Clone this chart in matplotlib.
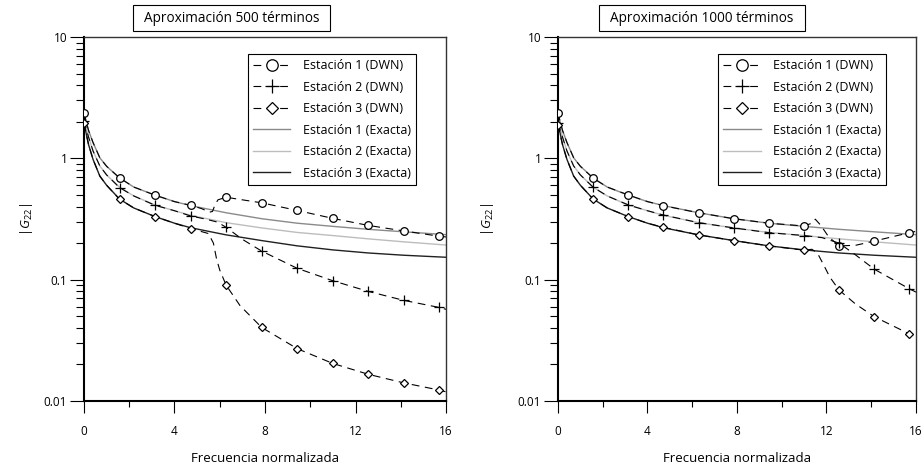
import numpy as np
import matplotlib.pyplot as plt
from matplotlib.ticker import FixedLocator, FixedFormatter, NullFormatter
from matplotlib.patches import Rectangle

plt.rcParams['font.family'] = ['Open Sans', 'DejaVu Sans']
plt.rcParams['mathtext.fontset'] = 'custom'
plt.rcParams['mathtext.rm'] = 'Open Sans'
plt.rcParams['mathtext.it'] = 'Open Sans:italic'

# Frecuencias donde se marcan los resultados DWN (multiplos de pi/2)
marker_freq = [0, 1.571, 3.142, 4.712, 6.283, 7.854, 9.425, 10.996, 12.566, 14.137, 15.708]

# Solucion exacta
exact_freq = [0, 0.2, 0.4, 0.7, 1.0, 1.571, 2.2, 3.142, 4.0, 4.712, 6.283, 7.854,
              9.425, 10.996, 12.566, 14.137, 16]
exact_st1 = [2.3, 1.7, 1.35, 1.01, 0.86, 0.69, 0.58, 0.497, 0.44, 0.408, 0.356, 0.318,
             0.292, 0.275, 0.26, 0.248, 0.235]
exact_st2 = [2.1, 1.5, 1.15, 0.865, 0.73, 0.578, 0.49, 0.412, 0.37, 0.339, 0.295, 0.267,
             0.245, 0.231, 0.217, 0.205, 0.193]
exact_st3 = [1.95, 1.3, 0.98, 0.714, 0.6, 0.462, 0.39, 0.331, 0.292, 0.268, 0.234, 0.21,
             0.19, 0.176, 0.166, 0.159, 0.153]

# DWN con 500 terminos: valores en las marcas + puntos intermedios de la curva
dwn500_st1 = [2.38, 0.69, 0.497, 0.41, 0.478, 0.43, 0.372, 0.32, 0.28, 0.252, 0.228]
dwn500_st1_f = [0.2, 0.4, 0.7, 1.0, 2.2, 4.0, 5.2, 5.55, 5.68, 5.78, 5.92, 7.0, 16]
dwn500_st1_v = [1.7, 1.35, 1.01, 0.86, 0.58, 0.44, 0.385, 0.36, 0.365, 0.41, 0.455, 0.455, 0.225]

dwn500_st2 = [2.05, 0.574, 0.41, 0.335, 0.27, 0.172, 0.124, 0.098, 0.080, 0.0675, 0.059]
dwn500_st2_f = [0.2, 0.4, 0.7, 1.0, 2.2, 4.0, 5.4, 5.9, 7.0, 16]
dwn500_st2_v = [1.5, 1.15, 0.865, 0.73, 0.49, 0.37, 0.315, 0.298, 0.215, 0.057]

dwn500_st3 = [1.94, 0.46, 0.331, 0.264, 0.09, 0.0404, 0.027, 0.0204, 0.0166, 0.0141, 0.0123]
dwn500_st3_f = [0.2, 0.4, 0.7, 1.0, 2.2, 4.0, 5.5, 5.72, 5.86, 6.0, 6.9, 16]
dwn500_st3_v = [1.3, 0.98, 0.714, 0.6, 0.39, 0.292, 0.24, 0.2, 0.148, 0.12, 0.061, 0.0119]

# DWN con 1000 terminos
dwn1000_st1 = [2.37, 0.686, 0.499, 0.407, 0.356, 0.318, 0.292, 0.277, 0.19, 0.208, 0.244]
dwn1000_st1_f = [0.2, 0.4, 0.7, 1.0, 2.2, 4.0, 11.3, 11.5, 11.75, 12.1, 13.3, 16]
dwn1000_st1_v = [1.7, 1.35, 1.01, 0.86, 0.58, 0.44, 0.29, 0.315, 0.28, 0.225, 0.192, 0.25]

dwn1000_st2 = [1.95, 0.578, 0.413, 0.341, 0.295, 0.267, 0.244, 0.231, 0.2, 0.122, 0.084]
dwn1000_st2_f = [0.2, 0.4, 0.7, 1.0, 2.2, 4.0, 11.8, 13.3, 16]
dwn1000_st2_v = [1.5, 1.15, 0.865, 0.73, 0.49, 0.37, 0.222, 0.16, 0.079]

dwn1000_st3 = [1.9, 0.462, 0.331, 0.27, 0.234, 0.21, 0.19, 0.175, 0.082, 0.0495, 0.0357]
dwn1000_st3_f = [0.2, 0.4, 0.7, 1.0, 2.2, 4.0, 11.35, 11.6, 11.85, 12.15, 13.3, 16]
dwn1000_st3_v = [1.3, 0.98, 0.714, 0.6, 0.39, 0.292, 0.178, 0.165, 0.135, 0.105, 0.063, 0.034]

labels_dwn = ['Estación 1 (DWN)', 'Estación 2 (DWN)', 'Estación 3 (DWN)']
labels_exact = ['Estación 1 (Exacta)', 'Estación 2 (Exacta)', 'Estación 3 (Exacta)']
exact_colors = ['#8a8a8a', '#bdbdbd', '#202020']
dwn_markers = ['o', '+', 'D']
dwn_msize = [5.5, 7.0, 4.2]


def merge_curve(mark_v, extra_f, extra_v):
    f = np.array(marker_freq + extra_f)
    v = np.array(mark_v + extra_v)
    order = np.argsort(f, kind='stable')
    marks = np.where(order < len(marker_freq))[0]
    return f[order], v[order], list(marks)


def draw_panel(ax, dwn_series, title, box_x, ylab_x):
    for vals, col, lab in zip([exact_st1, exact_st2, exact_st3], exact_colors, labels_exact):
        ax.plot(exact_freq, vals, color=col, lw=1.0, label=lab, zorder=2)

    handles = []
    for (mv, ef, ev), mk, ms, lab in zip(dwn_series, dwn_markers, dwn_msize, labels_dwn):
        f, v, marks = merge_curve(mv, ef, ev)
        line, = ax.plot(f, v, color='black', lw=0.8, dashes=(7, 5), marker=mk,
                        markevery=marks, markersize=ms, markerfacecolor='white',
                        markeredgecolor='black', markeredgewidth=0.9, label=lab,
                        zorder=3)
        handles.append(line)

    ax.set_xlim(0, 16)
    ax.set_yscale('log')
    ax.set_ylim(0.01, 10)

    ax.xaxis.set_major_locator(FixedLocator([0, 4, 8, 12, 16]))
    ax.xaxis.set_minor_locator(FixedLocator([2, 6, 10, 14]))
    ax.xaxis.set_major_formatter(FixedFormatter(['0', '4', '8', '12', '16']))
    ax.yaxis.set_major_locator(FixedLocator([0.01, 0.1, 1, 10]))
    ax.yaxis.set_major_formatter(FixedFormatter(['0.01', '0.1', '1', '10']))
    minors = [m * 10.0 ** e for e in (-2, -1, 0) for m in range(2, 10)]
    ax.yaxis.set_minor_locator(FixedLocator(minors))
    ax.yaxis.set_minor_formatter(NullFormatter())

    ax.tick_params(axis='y', which='major', direction='out', length=10, width=0.8,
                   labelsize=8.5, pad=2)
    ax.tick_params(axis='y', which='minor', direction='out', length=5.5, width=0.8)
    ax.tick_params(axis='x', which='major', direction='out', length=8.5, width=0.8,
                   labelsize=8.5, pad=9)
    ax.tick_params(axis='x', which='minor', direction='out', length=4.5, width=0.8)

    for side in ('left', 'bottom'):
        ax.spines[side].set_linewidth(1.5)
    for side in ('top', 'right'):
        ax.spines[side].set_linewidth(1.0)
        ax.spines[side].set_color('#333333')

    ax.set_xlabel('Frecuencia normalizada', fontsize=9.5)
    ax.xaxis.set_label_coords(0.5, -0.14)
    ax.set_ylabel(r'|$G_{22}$|', fontsize=9.5)
    ax.yaxis.set_label_coords(ylab_x, 0.5)

    exact_lines = ax.get_lines()[:3]
    leg = ax.legend(handles + exact_lines, labels_dwn + labels_exact,
                    loc='upper right', bbox_to_anchor=(0.917, 0.953),
                    borderaxespad=0, fontsize=9, frameon=True, fancybox=False,
                    edgecolor='black', framealpha=1, handlelength=3.0,
                    handletextpad=1.0, labelspacing=0.68, numpoints=1,
                    markerscale=1.5, borderpad=0.4)
    leg.get_frame().set_linewidth(0.8)

    # recuadro del titulo
    fig.patches.append(Rectangle((box_x[0] / 924, 1 - 31 / 472),
                                 (box_x[1] - box_x[0]) / 924, 26 / 472,
                                 transform=fig.transFigure, facecolor='white',
                                 edgecolor='black', lw=0.8))
    fig.text((box_x[0] + box_x[1]) / 2 / 924, 1 - 18 / 472, title, fontsize=9.8,
             ha='center', va='center')


fig = plt.figure(figsize=(9.24, 4.72), dpi=100)
ax_l = fig.add_axes([0.0909, 0.1504, 0.3918, 0.7712])
ax_r = fig.add_axes([0.6039, 0.1504, 0.3874, 0.7712])

draw_panel(ax_l,
           [(dwn500_st1, dwn500_st1_f, dwn500_st1_v),
            (dwn500_st2, dwn500_st2_f, dwn500_st2_v),
            (dwn500_st3, dwn500_st3_f, dwn500_st3_v)],
           'Aproximación 500 términos', (133, 330), -0.135)
draw_panel(ax_r,
           [(dwn1000_st1, dwn1000_st1_f, dwn1000_st1_v),
            (dwn1000_st2, dwn1000_st2_f, dwn1000_st2_v),
            (dwn1000_st3, dwn1000_st3_f, dwn1000_st3_v)],
           'Aproximación 1000 términos', (599, 805), -0.172)

fig.savefig('out.png', dpi=100)
